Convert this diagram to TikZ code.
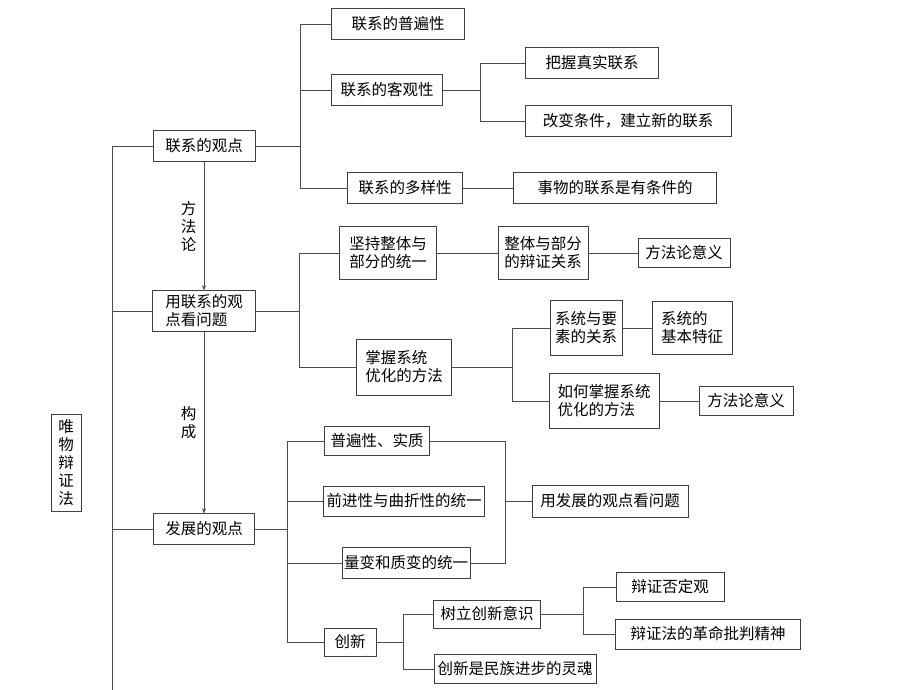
\documentclass[tikz,border=0pt]{standalone}
\usepackage{fontspec}
\newfontfamily\cjk{Noto Sans CJK SC}
\usetikzlibrary{positioning,arrows.meta}
\tikzset{box/.style={draw=black!75,thin,fill=white,inner sep=2pt,minimum height=31pt,align=left},
         link/.style={draw=black!70,thin},
         lead/.style={link,-{Stealth[length=5pt,width=4pt]}}}
\begin{document}
\begin{tikzpicture}[x=1pt,y=-1pt,font=\cjk\fontsize{15.5}{18}\selectfont]
\useasboundingbox[fill=white] (0,0) rectangle (920,690);

% root and main column
\node[box,minimum width=30pt,minimum height=97pt,align=center] (wu) at (66,463) {唯\\物\\辩\\证\\法};
\coordinate (trunk) at (112,146);
\coordinate (trunkend) at (112,690);
\node[box,minimum width=102pt] (lxgd) at (204,146) {联系的观点};
\node[box,minimum width=103pt,minimum height=41pt] (yong) at (204,311) {用联系的观\\点看问题};
\node[box,minimum width=101pt] (fzgd) at (204,529) {发展的观点};
\draw[link] (trunk) -- (trunkend);
\draw[link] (trunk) -- (lxgd.west);
\draw[link] (yong.west -| trunk) -- (yong.west);
\draw[link] (fzgd.west -| trunk) -- (fzgd.west);
\draw[lead] (lxgd) -- node[left=4pt,align=center] {方\\法\\论} (yong);
\draw[lead] (yong) -- node[left=4pt,align=center] {构\\成} (fzgd);

% 联系的观点
\coordinate (j1) at (300,0);
\node[box,minimum width=133pt] (pbx) at (398,24) {联系的普遍性};
\node[box,minimum width=111pt] (kgx) at (387,90) {联系的客观性};
\node[box,minimum width=115pt] (dyx) at (405,188) {联系的多样性};
\draw[link] (lxgd.east) -- (lxgd.east -| j1) |- (pbx.west);
\draw[link] (lxgd.east -| j1) |- (kgx.west);
\draw[link] (lxgd.east -| j1) |- (dyx.west);
\coordinate (j2) at (480,0);
\node[box,minimum width=133pt] (bw) at (592,63) {把握真实联系};
\node[box,minimum width=206pt] (gb) at (628,121) {改变条件，建立新的联系};
\node[box,minimum width=203pt] (sw) at (615,188) {事物的联系是有条件的};
\draw[link] (kgx.east) -- (kgx.east -| j2) |- (bw.west);
\draw[link] (kgx.east -| j2) |- (gb.west);
\draw[link] (dyx) -- (sw);

% 用联系的观点看问题
\coordinate (j3) at (299,0);
\node[box,minimum width=97pt,minimum height=53pt] (jc) at (388,253) {坚持整体与\\部分的统一};
\node[box,minimum width=90pt,minimum height=53pt] (zt) at (543,253) {整体与部分\\的辩证关系};
\node[box,minimum width=92pt,minimum height=29pt] (ff1) at (684,253) {方法论意义};
\node[box,minimum width=95pt,minimum height=56pt] (zw) at (404,367) {掌握系统\\优化的方法};
\draw[link] (yong.east) -- (yong.east -| j3) |- (jc.west);
\draw[link] (yong.east -| j3) |- (zw.west);
\draw[link] (jc) -- (zt);
\draw[link] (zt) -- (ff1);
\coordinate (j4) at (512,0);
\node[box,minimum width=72pt,minimum height=55pt] (xt) at (586,328) {系统与要\\素的关系};
\node[box,minimum width=80pt,minimum height=53pt] (jb) at (692,328) {系统的\\基本特征};
\node[box,minimum width=110pt,minimum height=55pt] (rh) at (604,401) {如何掌握系统\\优化的方法};
\node[box,minimum width=94pt,minimum height=29pt] (ff2) at (746,401) {方法论意义};
\draw[link] (zw.east) -- (zw.east -| j4) |- (xt.west);
\draw[link] (zw.east -| j4) |- (rh.west);
\draw[link] (xt) -- (jb);
\draw[link] (rh) -- (ff2);

% 发展的观点
\coordinate (j5) at (287,0);
\node[box,minimum width=105pt,minimum height=29pt] (bb) at (377,441) {普遍性、实质};
\node[box,minimum width=161pt,minimum height=30pt] (qj) at (404,501) {前进性与曲折性的统一};
\node[box,minimum width=127pt,minimum height=31pt] (lb) at (406,563) {量变和质变的统一};
\node[box,minimum width=52pt,minimum height=28pt] (cx) at (350,642) {创新};
\draw[link] (fzgd.east) -- (fzgd.east -| j5) |- (bb.west);
\draw[link] (fzgd.east -| j5) |- (qj.west);
\draw[link] (fzgd.east -| j5) |- (lb.west);
\draw[link] (fzgd.east -| j5) |- (cx.west);
\coordinate (j6) at (505,0);
\node[box,minimum width=156pt,minimum height=32pt] (yf) at (610,501) {用发展的观点看问题};
\draw[link] (bb.east) -| (j6 |- lb) -- (lb.east);
\draw[link] (qj.east -| j6) -- (yf.west);
\coordinate (j7) at (403,0);
\node[box,minimum width=107pt,minimum height=28pt] (sl) at (487,614) {树立创新意识};
\node[box,minimum width=162pt,minimum height=29pt] (mz) at (515,669) {创新是民族进步的灵魂};
\draw[link] (cx.east) -- (cx.east -| j7) |- (sl.west);
\draw[link] (cx.east -| j7) |- (mz.west);
\coordinate (j8) at (583,0);
\node[box,minimum width=108pt,minimum height=29pt] (fd) at (670,587) {辩证否定观};
\node[box,minimum width=185pt,minimum height=30pt] (gm) at (708,634) {辩证法的革命批判精神};
\draw[link] (sl.east) -- (sl.east -| j8) |- (fd.west);
\draw[link] (sl.east -| j8) |- (gm.west);
\end{tikzpicture}
\end{document}
